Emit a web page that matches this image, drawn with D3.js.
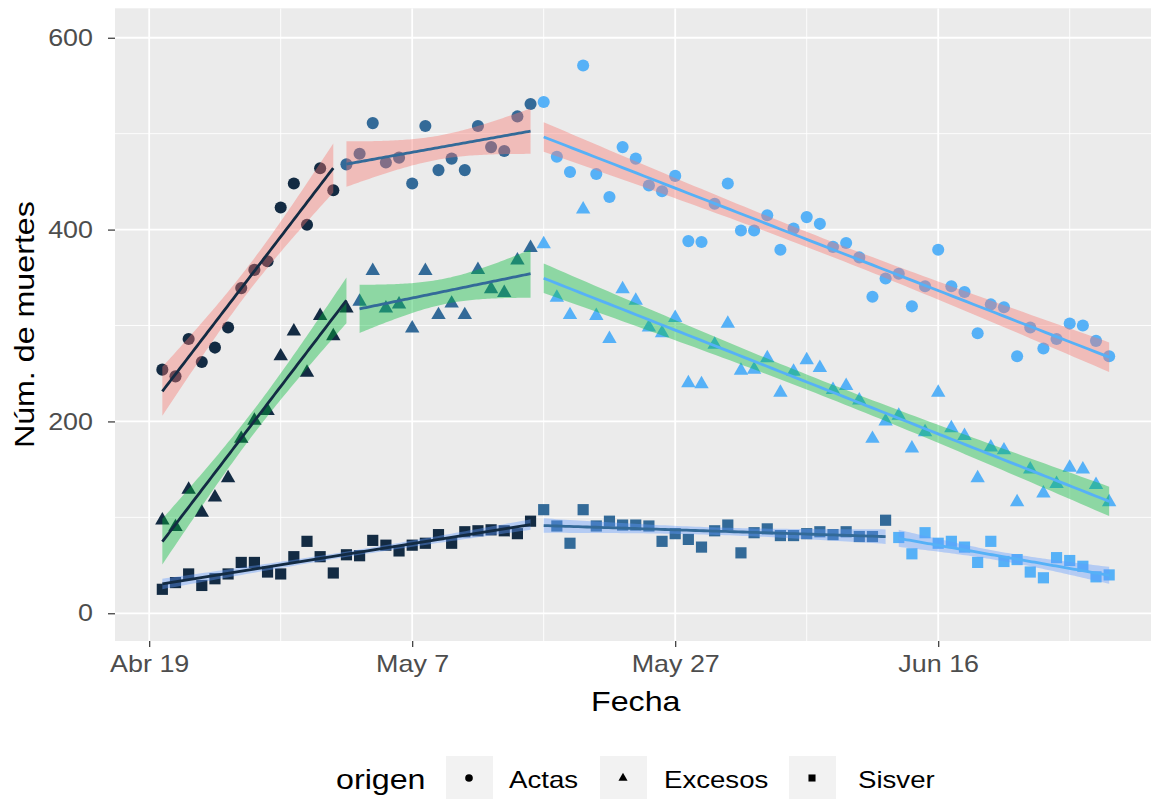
<!DOCTYPE html>
<html>
<head>
<meta charset="utf-8">
<script src="https://cdn.jsdelivr.net/npm/d3@7"></script>
<style>
  body { margin: 0; background: #ffffff; }
  text { font-family: "Liberation Sans", Arial, sans-serif; }
</style>
</head>
<body>
<svg id="chart" width="1151" height="799"></svg>
<script>
// ---- data -------------------------------------------------------------
// x axis: days counted from 19 April
const dayTicks = [0, 20, 40, 60];
const dayTickLabels = ["Abr 19", "May 7", "May 27", "Jun 16"];
const dayMinor = [10, 30, 50, 70];
const yTicks = [0, 200, 400, 600];
const yMinor = [100, 300, 500];

const origenes = ["Actas", "Excesos", "Sisver"];
const firstDay = 1;

// daily deaths, day 1 .. 73
const actas = [
  254, 247, 286, 262, 277, 298, 339, 358, 367, 423, 448, 405, 464, 441,
  468, 479, 511, 470, 475, 448, 508, 462, 474, 462, 508, 486, 482, 518, 531,
  533, 476, 460, 571, 458, 434, 486, 474, 446, 440, 456, 388, 387, 427, 448,
  399, 399, 415, 379, 401, 413, 406, 382, 386, 371, 330, 349, 354, 320, 341,
  379, 341, 335, 292, 322, 319, 268, 298, 276, 286, 302, 300, 284, 268
];
const excesos = [
  97, 90, 129, 105, 121, 141, 182, 201, 211, 268, 294, 251, 310, 289, 318,
  325, 357, 318, 322, 297, 357, 311, 323, 311, 358, 338, 334, 368, 381,
  385, 329, 311, 421, 310, 286, 338, 326, 298, 292, 308, 240, 239, 280, 302,
  253, 254, 266, 230, 252, 264, 256, 233, 237, 222, 182, 200, 206, 172, 189,
  230, 193, 185, 141, 173, 170, 116, 150, 125, 135, 152, 150, 134, 116
];
const sisver = [
  25, 32, 41, 29, 36, 41, 53, 53, 43, 41, 59, 75, 59, 42, 61, 60, 76, 71, 65,
  71, 73, 82, 73, 85, 86, 87, 86, 83, 96,
  108, 91, 73, 108, 91, 96, 92, 92, 91, 75, 83, 77, 69, 86, 92, 63, 84, 88,
  81, 81, 83, 85, 82, 85, 80, 80, 97,
  79, 62, 84, 73, 75, 69, 53, 75, 54, 56, 43, 37, 58, 55, 49, 38, 40
];

// stretches (tramos) fitted separately: [first day, last day]
const actasTramos = [[1, 14], [15, 29], [30, 73]];
const excesosTramos = [[1, 15], [16, 29], [30, 73]];
const sisverTramos = [[1, 29], [30, 56], [57, 73]];

const seriesValues = [actas, excesos, sisver];
const seriesTramos = [actasTramos, excesosTramos, sisverTramos];

// ---- layout -----------------------------------------------------------
const panel = { left: 115, top: 8.3, right: 1156.5, bottom: 641 };
const TEXT_STRETCH = 1.15;   // glyphs are drawn slightly wide

const svg = d3.select("#chart");

const x = d3.scaleLinear().domain([-2.6, 76.6]).range([panel.left, panel.right]);
const y = d3.scaleLinear().domain([-28.9, 630.7]).range([panel.bottom, panel.top]);

const colour = d3.scaleLinear().domain([1, 3])
  .range(["#132B43", "#56B1F7"]).interpolate(d3.interpolateLab);
const fillColour = d3.scaleOrdinal().domain(origenes)
  .range(["#F8766D", "#00BA38", "#619CFF"]);
const shape = d3.scaleOrdinal().domain(origenes)
  .range([d3.symbolCircle, d3.symbolTriangle, d3.symbolSquare]);
const shapeSize = d3.scaleOrdinal().domain(origenes).range([115, 90, 125]);

function stretch(sel, k) {
  sel.each(function () {
    const w = this.getComputedTextLength();
    d3.select(this).attr("textLength", w * k).attr("lengthAdjust", "spacingAndGlyphs");
  });
}

// ---- tidy rows ----------------------------------------------------------
const rows = [];
origenes.forEach((o, si) => {
  seriesValues[si].forEach((v, i) => {
    const day = firstDay + i;
    const tramo = seriesTramos[si].findIndex(([a, b]) => day >= a && day <= b) + 1;
    rows.push({ origen: o, day, value: v, tramo });
  });
});

// ---- panel and grid -----------------------------------------------------
const defs = svg.append("defs");
defs.append("clipPath").attr("id", "panelClip").append("rect")
  .attr("x", panel.left).attr("y", panel.top)
  .attr("width", panel.right - panel.left).attr("height", panel.bottom - panel.top);

svg.append("rect")
  .attr("x", panel.left).attr("y", panel.top)
  .attr("width", panel.right - panel.left).attr("height", panel.bottom - panel.top)
  .attr("fill", "#EBEBEB");

const grid = svg.append("g").attr("clip-path", "url(#panelClip)");
grid.selectAll(".ymin").data(yMinor).join("line")
  .attr("x1", panel.left).attr("x2", panel.right)
  .attr("y1", d => y(d)).attr("y2", d => y(d))
  .attr("stroke", "#fff").attr("stroke-width", 0.9);
grid.selectAll(".xmin").data(dayMinor).join("line")
  .attr("y1", panel.top).attr("y2", panel.bottom)
  .attr("x1", d => x(d)).attr("x2", d => x(d))
  .attr("stroke", "#fff").attr("stroke-width", 0.9);
grid.selectAll(".ymaj").data(yTicks).join("line")
  .attr("x1", panel.left).attr("x2", panel.right)
  .attr("y1", d => y(d)).attr("y2", d => y(d))
  .attr("stroke", "#fff").attr("stroke-width", 1.8);
grid.selectAll(".xmaj").data(dayTicks).join("line")
  .attr("y1", panel.top).attr("y2", panel.bottom)
  .attr("x1", d => x(d)).attr("x2", d => x(d))
  .attr("stroke", "#fff").attr("stroke-width", 1.8);

// ---- points -------------------------------------------------------------
const plot = svg.append("g").attr("clip-path", "url(#panelClip)");
plot.selectAll("path.pt").data(rows).join("path")
  .attr("class", "pt")
  .attr("transform", d => `translate(${x(d.day)},${y(d.value)})`)
  .attr("d", d => d3.symbol(shape(d.origen), shapeSize(d.origen))())
  .attr("fill", d => colour(d.tramo));

// ---- linear fits with 95% confidence bands -------------------------------
function tQuantile(df) { return 1.96 + 2.4 / df + 3 / (df * df); }

function linearFit(pts) {
  const n = pts.length;
  const mx = d3.mean(pts, p => p.day), my = d3.mean(pts, p => p.value);
  const sxx = d3.sum(pts, p => (p.day - mx) ** 2);
  const sxy = d3.sum(pts, p => (p.day - mx) * (p.value - my));
  const b = sxy / sxx, a = my - b * mx;
  const sse = d3.sum(pts, p => (p.value - (a + b * p.day)) ** 2);
  const s = Math.sqrt(sse / (n - 2));
  const t = tQuantile(n - 2);
  const [x0, x1] = d3.extent(pts, p => p.day);
  return d3.range(80).map(k => {
    const xv = x0 + (x1 - x0) * k / 79;
    const fit = a + b * xv;
    const se = s * Math.sqrt(1 / n + (xv - mx) ** 2 / sxx);
    return { day: xv, fit, lo: fit - t * se, hi: fit + t * se };
  });
}

const fits = [];
origenes.forEach((o, si) => {
  seriesTramos[si].forEach((_, ti) => {
    const pts = rows.filter(r => r.origen === o && r.tramo === ti + 1);
    fits.push({ origen: o, tramo: ti + 1, curve: linearFit(pts) });
  });
});

const band = d3.area().x(d => x(d.day)).y0(d => y(d.lo)).y1(d => y(d.hi));
const fitLine = d3.line().x(d => x(d.day)).y(d => y(d.fit));

fits.forEach(f => {
  plot.append("path").attr("d", band(f.curve))
    .attr("fill", fillColour(f.origen)).attr("fill-opacity", 0.4);
  plot.append("path").attr("d", fitLine(f.curve))
    .attr("fill", "none").attr("stroke", colour(f.tramo)).attr("stroke-width", 2.8);
});

// ---- axes -----------------------------------------------------------------
const xAxis = svg.append("g").attr("transform", `translate(0,${panel.bottom})`)
  .call(d3.axisBottom(x).tickValues(dayTicks)
    .tickFormat((d, i) => dayTickLabels[i]).tickSize(6).tickPadding(8));
const yAxis = svg.append("g").attr("transform", `translate(${panel.left},0)`)
  .call(d3.axisLeft(y).tickValues(yTicks).tickSize(7).tickPadding(15));

[xAxis, yAxis].forEach(g => {
  g.select(".domain").remove();
  g.selectAll(".tick line").attr("stroke", "#333333").attr("stroke-width", 1.2);
  g.selectAll(".tick text").attr("fill", "#4D4D4D")
    .style("font-size", "24px").call(stretch, 1.12);
});

svg.append("text")
  .attr("x", (panel.left + panel.right) / 2).attr("y", 711)
  .attr("text-anchor", "middle").style("font-size", "28px").attr("fill", "#000")
  .text("Fecha").call(stretch, TEXT_STRETCH);

svg.append("text")
  .attr("transform", `translate(34,${(panel.top + panel.bottom) / 2}) rotate(-90)`)
  .attr("text-anchor", "middle").style("font-size", "28px").attr("fill", "#000")
  .text("Núm. de muertes").call(stretch, TEXT_STRETCH);

// ---- legend ---------------------------------------------------------------
const legend = svg.append("g");
legend.append("text").attr("x", 336).attr("y", 789)
  .style("font-size", "28px").attr("fill", "#000").text("origen")
  .call(stretch, TEXT_STRETCH);

const keyX = [446, 600, 789];
const labelX = [509, 664, 858];
origenes.forEach((o, i) => {
  const kx = keyX[i];
  legend.append("rect").attr("x", kx).attr("y", 756).attr("width", 47).attr("height", 47)
    .attr("fill", "#F2F2F2");
  legend.append("path")
    .attr("transform", `translate(${kx + 23},${778})`)
    .attr("d", d3.symbol(shape(o), shapeSize(o) * 0.4)())
    .attr("fill", "#000");
  legend.append("text").attr("x", labelX[i]).attr("y", 788)
    .style("font-size", "24px").attr("fill", "#000").text(o)
    .call(stretch, TEXT_STRETCH);
});
</script>
</body>
</html>
